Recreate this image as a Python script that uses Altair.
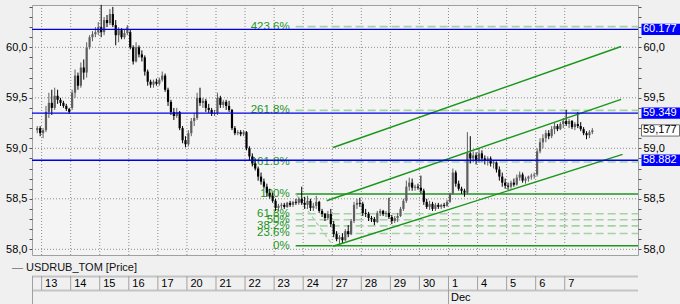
import altair as alt
import pandas as pd

# ---------------- data ----------------
days = ["13", "14", "15", "16", "17", "20", "21", "22", "23", "24",
        "27", "28", "29", "30", "1", "4", "5", "6", "7"]
month_label = "Dec"
month_day_index = 14
series_name = "USDRUB_TOM [Price]"

# candles per day: (open, high, low, close); 10 slots per day
slots_per_day = 10
first_slot = {-1: 8}
candles = {
    -1: [(59.18, 59.22, 59.15, 59.20), (59.20, 59.22, 59.12, 59.15)],
    0: [(59.15, 59.20, 59.10, 59.18), (59.18, 59.42, 59.16, 59.36), (59.36, 59.55, 59.30, 59.45),
        (59.45, 59.58, 59.33, 59.40), (59.40, 59.60, 59.38, 59.52), (59.52, 59.58, 59.44, 59.48),
        (59.48, 59.50, 59.42, 59.45), (59.45, 59.47, 59.40, 59.42), (59.42, 59.44, 59.37, 59.39),
        (59.39, 59.40, 59.34, 59.36)],
    1: [(59.40, 59.58, 59.38, 59.55), (59.55, 59.78, 59.50, 59.72), (59.72, 59.75, 59.58, 59.62),
        (59.62, 59.85, 59.60, 59.80), (59.80, 59.88, 59.68, 59.75), (59.75, 60.05, 59.70, 60.00),
        (60.00, 60.12, 59.98, 60.10), (60.10, 60.16, 60.06, 60.13), (60.13, 60.20, 60.10, 60.15),
        (60.15, 60.25, 60.12, 60.20)],
    2: [(60.20, 60.42, 60.10, 60.15), (60.15, 60.30, 60.12, 60.27), (60.27, 60.32, 60.20, 60.24),
        (60.24, 60.38, 60.22, 60.33), (60.33, 60.40, 60.20, 60.22), (60.22, 60.27, 60.02, 60.12),
        (60.12, 60.20, 60.05, 60.17), (60.17, 60.19, 60.08, 60.10), (60.10, 60.18, 60.08, 60.14),
        (60.14, 60.22, 60.12, 60.20)],
    3: [(60.15, 60.18, 59.98, 60.00), (60.00, 60.02, 59.83, 59.86), (59.86, 60.05, 59.85, 60.00),
        (60.00, 60.02, 59.90, 59.93), (59.93, 59.97, 59.86, 59.90), (59.90, 59.92, 59.72, 59.76),
        (59.76, 59.78, 59.62, 59.66), (59.66, 59.68, 59.60, 59.63), (59.63, 59.68, 59.60, 59.66),
        (59.66, 59.69, 59.62, 59.64)],
    4: [(59.64, 59.70, 59.62, 59.68), (59.68, 59.76, 59.66, 59.72), (59.72, 59.74, 59.56, 59.58),
        (59.58, 59.60, 59.42, 59.46), (59.46, 59.48, 59.33, 59.36), (59.36, 59.40, 59.28, 59.32),
        (59.32, 59.40, 59.30, 59.36), (59.36, 59.37, 59.18, 59.20), (59.20, 59.22, 59.05, 59.08),
        (59.08, 59.12, 59.01, 59.04)],
    5: [(59.04, 59.18, 59.02, 59.15), (59.15, 59.30, 59.12, 59.27), (59.27, 59.35, 59.22, 59.30),
        (59.30, 59.55, 59.28, 59.50), (59.50, 59.60, 59.42, 59.45), (59.45, 59.50, 59.40, 59.47),
        (59.47, 59.49, 59.36, 59.40), (59.40, 59.44, 59.35, 59.38), (59.38, 59.40, 59.32, 59.34),
        (59.34, 59.38, 59.32, 59.35)],
    6: [(59.35, 59.55, 59.33, 59.50), (59.50, 59.52, 59.40, 59.43), (59.43, 59.48, 59.40, 59.46),
        (59.46, 59.48, 59.38, 59.42), (59.42, 59.47, 59.36, 59.38), (59.38, 59.39, 59.18, 59.20),
        (59.20, 59.22, 59.13, 59.15), (59.15, 59.18, 59.13, 59.16), (59.16, 59.18, 59.12, 59.14),
        (59.14, 59.18, 59.12, 59.16)],
    7: [(59.16, 59.17, 58.98, 59.00), (59.00, 59.02, 58.88, 58.92), (58.92, 58.95, 58.82, 58.85),
        (58.85, 58.90, 58.78, 58.80), (58.80, 58.82, 58.68, 58.72), (58.72, 58.76, 58.64, 58.67),
        (58.67, 58.70, 58.60, 58.62), (58.62, 58.65, 58.52, 58.56), (58.56, 58.60, 58.50, 58.53),
        (58.53, 58.56, 58.46, 58.48)],
    8: [(58.48, 58.50, 58.38, 58.41), (58.41, 58.45, 58.38, 58.43), (58.43, 58.46, 58.40, 58.44),
        (58.44, 58.46, 58.40, 58.42), (58.42, 58.47, 58.41, 58.46), (58.46, 58.48, 58.42, 58.44),
        (58.44, 58.48, 58.42, 58.47), (58.47, 58.50, 58.44, 58.46), (58.46, 58.52, 58.44, 58.50),
        (58.50, 58.62, 58.44, 58.46)],
    9: [(58.46, 58.52, 58.40, 58.44), (58.44, 58.53, 58.40, 58.48), (58.48, 58.50, 58.38, 58.41),
        (58.41, 58.46, 58.38, 58.43), (58.43, 58.53, 58.40, 58.47), (58.47, 58.48, 58.36, 58.38),
        (58.38, 58.40, 58.32, 58.35), (58.35, 58.36, 58.28, 58.31), (58.31, 58.38, 58.29, 58.35),
        (58.35, 58.40, 58.22, 58.25)],
    10: [(58.25, 58.28, 58.12, 58.15), (58.15, 58.18, 58.08, 58.10), (58.10, 58.14, 58.05, 58.12),
         (58.12, 58.16, 58.06, 58.09), (58.09, 58.20, 58.08, 58.18), (58.18, 58.24, 58.12, 58.15),
         (58.15, 58.30, 58.14, 58.28), (58.28, 58.47, 58.26, 58.44), (58.44, 58.50, 58.40, 58.46),
         (58.46, 58.51, 58.42, 58.45)],
    11: [(58.45, 58.47, 58.33, 58.36), (58.36, 58.40, 58.32, 58.35), (58.35, 58.37, 58.28, 58.31),
         (58.31, 58.33, 58.27, 58.30), (58.30, 58.32, 58.24, 58.27), (58.27, 58.38, 58.26, 58.36),
         (58.36, 58.40, 58.33, 58.38), (58.38, 58.39, 58.33, 58.35), (58.35, 58.38, 58.32, 58.36),
         (58.36, 58.51, 58.30, 58.32)],
    12: [(58.32, 58.34, 58.25, 58.28), (58.28, 58.33, 58.26, 58.31), (58.31, 58.36, 58.27, 58.33),
         (58.33, 58.42, 58.32, 58.40), (58.40, 58.50, 58.38, 58.48), (58.48, 58.68, 58.46, 58.62),
         (58.62, 58.71, 58.58, 58.66), (58.66, 58.70, 58.58, 58.61), (58.61, 58.64, 58.58, 58.62),
         (58.62, 58.65, 58.59, 58.61)],
    13: [(58.61, 58.73, 58.55, 58.58), (58.58, 58.60, 58.44, 58.47), (58.47, 58.50, 58.40, 58.42),
         (58.42, 58.48, 58.39, 58.45), (58.45, 58.47, 58.38, 58.40), (58.40, 58.46, 58.38, 58.44),
         (58.44, 58.46, 58.40, 58.42), (58.42, 58.45, 58.40, 58.44), (58.44, 58.46, 58.41, 58.43),
         (58.43, 58.49, 58.42, 58.47)],
    14: [(58.47, 58.56, 58.46, 58.55), (58.55, 58.80, 58.54, 58.76), (58.76, 58.78, 58.62, 58.65),
         (58.65, 58.68, 58.58, 58.60), (58.60, 58.62, 58.55, 58.58), (58.58, 58.60, 58.52, 58.56),
         (58.56, 59.16, 58.54, 58.95), (58.95, 59.12, 58.85, 58.90), (58.90, 58.97, 58.86, 58.93),
         (58.93, 58.96, 58.84, 58.88)],
    15: [(58.88, 59.00, 58.86, 58.95), (58.95, 58.98, 58.87, 58.90), (58.90, 58.93, 58.84, 58.88),
         (58.88, 58.92, 58.83, 58.90), (58.90, 58.92, 58.82, 58.85), (58.85, 58.88, 58.80, 58.86),
         (58.86, 58.87, 58.76, 58.79), (58.79, 58.82, 58.68, 58.72), (58.72, 58.76, 58.62, 58.66),
         (58.66, 58.70, 58.60, 58.63)],
    16: [(58.63, 58.66, 58.59, 58.62), (58.62, 58.68, 58.60, 58.66), (58.66, 58.70, 58.62, 58.64),
         (58.64, 58.74, 58.63, 58.71), (58.71, 58.77, 58.68, 58.74), (58.74, 58.76, 58.66, 58.68),
         (58.68, 58.72, 58.65, 58.70), (58.70, 58.73, 58.67, 58.72), (58.72, 58.75, 58.69, 58.73),
         (58.73, 58.76, 58.70, 58.74)],
    17: [(58.74, 59.00, 58.72, 58.97), (58.97, 59.10, 58.95, 59.06), (59.06, 59.14, 59.00, 59.10),
         (59.10, 59.18, 59.06, 59.15), (59.15, 59.18, 59.09, 59.12), (59.12, 59.22, 59.10, 59.19),
         (59.19, 59.25, 59.14, 59.22), (59.22, 59.24, 59.17, 59.19), (59.19, 59.26, 59.18, 59.24),
         (59.24, 59.30, 59.20, 59.27)],
    18: [(59.27, 59.38, 59.22, 59.24), (59.24, 59.29, 59.20, 59.27), (59.27, 59.28, 59.19, 59.21),
         (59.21, 59.26, 59.18, 59.24), (59.24, 59.36, 59.20, 59.22), (59.22, 59.26, 59.17, 59.19),
         (59.19, 59.21, 59.13, 59.15), (59.15, 59.17, 59.09, 59.13), (59.13, 59.18, 59.10, 59.16),
         (59.16, 59.20, 59.14, 59.177)],
}

# fibonacci levels (drawn from the 100% point at fib_start)
fib_labels = ["0%", "23.6%", "38.2%", "50%", "61.8%", "100%", "161.8%", "261.8%", "423.6%"]
fib_values = [58.036, 58.157, 58.232, 58.292, 58.352, 58.548, 58.864, 59.376, 60.205]
fib_solid = [True, False, False, False, False, True, False, False, False]
fib_start = 8.742
fib_diag_t = [8.742, 10.03]
fib_diag_v = [58.548, 58.036]

# trend channel lines: (t0, v0, t1, v1)
channel_lines = [
    (10.03, 59.008, 19.94, 60.008),
    (9.81, 58.481, 19.94, 59.485),
    (10.03, 58.030, 19.99, 58.940),
]

# horizontal levels with blue price tags
blue_levels = [60.177, 59.349, 58.882]
blue_texts = ["60.177", "59.349", "58.882"]
last_price = 59.177
last_text = "59,177"

grid_levels = [58.0, 58.5, 59.0, 59.5, 60.0]
y_ticks = [58.0, 58.1, 58.2, 58.3, 58.4, 58.5, 58.6, 58.7, 58.8, 58.9, 59.0, 59.1, 59.2,
           59.3, 59.4, 59.5, 59.6, 59.7, 59.8, 59.9, 60.0, 60.1, 60.2, 60.3, 60.4]

# ---------------- layout constants ----------------
W, H = 606, 250
FONT = "Liberation Sans"
xs = alt.Scale(domain=[-0.159, 20.349], nice=False, zero=False)
ys = alt.Scale(domain=[57.9436, 60.419], nice=False, zero=False)
TAG_HALF = 0.056

# ---------------- frames ----------------
rows = []
for d, lst in candles.items():
    s0 = first_slot.get(d, 0)
    for k, (o, h, l, c) in enumerate(lst):
        rows.append(dict(t=d + (s0 + k + 0.5) / slots_per_day, o=o, h=h, l=l, c=c,
                         dir="up" if c >= o else "down"))
cdf = pd.DataFrame(rows)

days_df = pd.DataFrame({"t": list(range(len(days))), "label": days})
grid_df = pd.DataFrame({"v": grid_levels})
fib_df = pd.DataFrame({"v": fib_values, "label": fib_labels, "solid": fib_solid, "t": fib_start})
diag_df = pd.DataFrame({"t": fib_diag_t, "v": fib_diag_v})
ch_rows = []
for i, (t0, v0, t1, v1) in enumerate(channel_lines):
    ch_rows += [dict(id=i, t=t0, v=v0), dict(id=i, t=t1, v=v1)]
ch_df = pd.DataFrame(ch_rows)
blue_df = pd.DataFrame({"v": blue_levels, "label": blue_texts})
last_df = pd.DataFrame({"v": [last_price], "label": [last_text]})
month_df = pd.DataFrame({"t": [month_day_index], "label": [month_label]})

X = lambda f="t": alt.X(f"{f}:Q", scale=xs, axis=None)
Y = lambda f="v": alt.Y(f"{f}:Q", scale=ys, axis=None)

label_expr = ("abs(datum.value*2 - round(datum.value*2)) < 0.01 ? "
              "replace(format(datum.value, '.1f'), '.', ',') : ''")

def y_axis(orient):
    return alt.Axis(orient=orient, values=y_ticks, labelExpr=label_expr, title=None,
                    grid=False, domain=False, tickSize=3, tickColor="#555555",
                    labelPadding=2, labelFont=FONT, labelFontSize=11, labelColor="#000000",
                    labelOverlap=False, labelFlush=False)

# grid
hgrid = alt.Chart(grid_df).mark_rule(color="#8c8c8c", strokeDash=[1, 2], strokeWidth=1).encode(
    y=Y(), x=alt.value(0), x2=alt.value(W))
vgrid = alt.Chart(days_df).mark_rule(color="#8c8c8c", strokeDash=[1, 2], strokeWidth=1).encode(
    x=X(), y=alt.value(0), y2=alt.value(H))

# fib
fib_dash = alt.Chart(fib_df).transform_filter("!datum.solid").mark_rule(
    color="#a3d2a3", strokeDash=[8, 4], strokeWidth=1.6).encode(x=X(), x2=alt.value(W), y=Y())
fib_line = alt.Chart(fib_df).transform_filter("datum.solid").mark_rule(
    color="#1f961f", strokeWidth=1.5).encode(x=X(), x2=alt.value(W), y=Y())
fib_diag = alt.Chart(diag_df).mark_line(color="#a3d2a3", strokeDash=[4, 3], strokeWidth=1.2).encode(
    x=X(), y=Y())
fib_text = alt.Chart(fib_df).mark_text(align="right", baseline="middle", dx=-6, font=FONT,
                                       fontSize=11.5, color="#249424").encode(
    x=X(), y=Y(), text="label:N")

# candles
wick = alt.Chart(cdf).mark_rule(strokeWidth=1).encode(
    x=X(), y=alt.Y("l:Q", scale=ys, axis=y_axis("left")), y2="h:Q",
    color=alt.Color("dir:N", scale=alt.Scale(domain=["up", "down"], range=["#5e5e5e", "#000000"]),
                    legend=None))
body = alt.Chart(cdf).mark_bar(size=2.2).encode(
    x=X(), y=alt.Y("o:Q", scale=ys, axis=y_axis("right")), y2="c:Q",
    color=alt.Color("dir:N", scale=alt.Scale(domain=["up", "down"], range=["#8a8a8a", "#000000"]),
                    legend=None))

# channels
channels = alt.Chart(ch_df).mark_line(color="#1a961a", strokeWidth=1.4).encode(
    x=X(), y=Y(), detail="id:N")

# blue levels
blue = alt.Chart(blue_df).mark_rule(color="#0000e6", strokeWidth=1.3).encode(
    y=Y(), x=alt.value(0), x2=alt.value(W))
blue_box = alt.Chart(blue_df).transform_calculate(
    lo=f"datum.v - {TAG_HALF}", hi=f"datum.v + {TAG_HALF}").mark_rect(color="#0000ff").encode(
    x=alt.value(609.5), x2=alt.value(648), y=alt.Y("lo:Q", scale=ys, axis=None), y2="hi:Q")
blue_txt = alt.Chart(blue_df).mark_text(align="left", baseline="middle", font=FONT, fontSize=11,
                                        color="#ffffff").encode(
    x=alt.value(611), y=Y(), text="label:N")
last_box = alt.Chart(last_df).transform_calculate(
    lo=f"datum.v - {TAG_HALF}", hi=f"datum.v + {TAG_HALF}").mark_rect(
    fill="#ffffff", stroke="#707070", strokeWidth=1).encode(
    x=alt.value(609.5), x2=alt.value(647.5), y=alt.Y("lo:Q", scale=ys, axis=None), y2="hi:Q")
last_txt = alt.Chart(last_df).mark_text(align="left", baseline="middle", font=FONT, fontSize=11,
                                        color="#000000").encode(
    x=alt.value(611), y=Y(), text="label:N")

# legend line
leg_dash = alt.Chart(month_df).mark_text(align="left", baseline="middle", font=FONT, fontSize=11,
                                         color="#707070").encode(
    x=alt.value(-20), y=alt.value(263), text=alt.value("\u2014"))
leg_txt = alt.Chart(month_df).mark_text(align="left", baseline="middle", font=FONT, fontSize=11,
                                        color="#111111").encode(
    x=alt.value(-6), y=alt.value(263), text=alt.value(series_name))

# x axis row
row_top = alt.Chart(month_df).mark_rule(color="#c4c4c4", strokeWidth=2).encode(
    x=alt.value(0), x2=alt.value(W), y=alt.value(271.5))
row_bot = alt.Chart(month_df).mark_rule(color="#c4c4c4", strokeWidth=2).encode(
    x=alt.value(0), x2=alt.value(W), y=alt.value(285.5))
row_left = alt.Chart(month_df).mark_rule(color="#a0a0a0", strokeWidth=1).encode(
    x=alt.value(0.5), y=alt.value(271), y2=alt.value(299))
day_sep = alt.Chart(days_df).mark_rule(color="#a0a0a0", strokeWidth=1).encode(
    x=X(), y=alt.value(271), y2=alt.value(285))
month_sep = alt.Chart(month_df).mark_rule(color="#a0a0a0", strokeWidth=1).encode(
    x=X(), y=alt.value(271), y2=alt.value(299))
day_txt = alt.Chart(days_df).mark_text(align="left", baseline="middle", dx=3.5, font=FONT,
                                       fontSize=11, color="#000000").encode(
    x=X(), y=alt.value(279), text="label:N")
month_txt = alt.Chart(month_df).mark_text(align="left", baseline="middle", dx=2.5, font=FONT,
                                          fontSize=11, color="#000000").encode(
    x=X(), y=alt.value(292.5), text="label:N")

chart = alt.layer(
    hgrid, vgrid, fib_dash, fib_line, fib_diag, fib_text,
    wick, body, channels, blue,
    blue_box, blue_txt, last_box, last_txt,
    leg_dash, leg_txt, row_top, row_bot, row_left, day_sep, month_sep, day_txt, month_txt,
).resolve_axis(y="independent").properties(
    width=W, height=H,
    padding={"left": 32, "top": 5, "right": 42, "bottom": 49},
    autosize=alt.AutoSizeParams(type="none"),
    background="#f0f0f0",
).configure_view(stroke="#a0a0a0", fill="#f4f4f4")

chart.save("out.html", embed_options={"renderer": "svg", "actions": False})
